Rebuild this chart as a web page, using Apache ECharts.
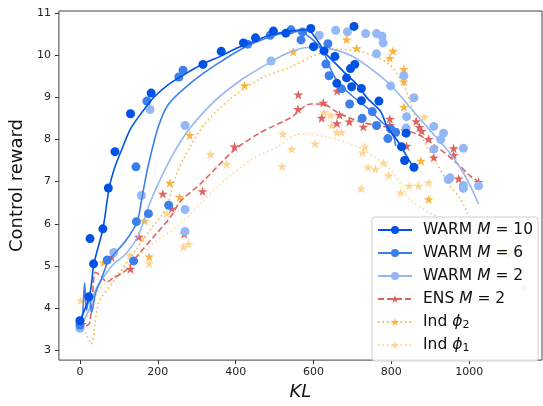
<!DOCTYPE html>
<html><head><meta charset="utf-8">
<script src="https://cdn.jsdelivr.net/npm/echarts@6/dist/echarts.min.js"></script>
<style>html,body{margin:0;padding:0;background:#fff}#c{width:543px;height:406px}</style>
</head><body><div id="c"></div>
<script>
// ---- tick labels ----
const xTicks = [0, 200, 400, 600, 800, 1000];
const yTicks = [3, 4, 5, 6, 7, 8, 9, 10, 11];
const legendNames = ['WARM M = 10', 'WARM M = 6', 'WARM M = 2', 'ENS M = 2', 'Ind ϕ2', 'Ind ϕ1'];

// ---- scatter points (KL, reward) ----
const w10PtKL = [0, 23, 26, 35, 59, 73, 90, 130, 183, 316, 363, 420, 451, 497, 529, 593, 600, 627, 655, 704, 706, 695, 685, 660, 698, 723, 723, 768, 838, 826, 834, 858];
const w10PtRw = [3.70, 4.27, 5.65, 5.05, 5.88, 6.85, 7.71, 8.61, 9.10, 9.78, 10.09, 10.29, 10.41, 10.57, 10.52, 10.63, 10.20, 10.10, 9.97, 10.68, 9.78, 9.68, 9.46, 9.33, 9.25, 9.21, 8.92, 8.91, 8.15, 7.83, 7.50, 7.34];
const w6PtKL = [0, 70, 138, 145, 176, 228, 144, 172, 254, 265, 431, 489, 542, 572, 568, 637, 632, 640, 672, 693, 725, 751, 762, 791, 798, 811];
const w6PtRw = [3.60, 5.14, 5.12, 6.05, 6.24, 6.44, 7.35, 8.91, 9.48, 9.64, 10.26, 10.47, 10.60, 10.55, 10.36, 10.27, 9.79, 9.51, 9.20, 8.84, 8.50, 8.66, 8.33, 8.02, 8.25, 8.17];
const w2PtKL = [0, 87, 158, 180, 270, 270, 270, 491, 615, 657, 687, 734, 762, 776, 779, 762, 798, 832, 858, 839, 838, 909, 934, 927, 909, 985, 951, 946, 985, 1024, 985];
const w2PtRw = [3.52, 5.32, 6.67, 8.71, 8.33, 6.34, 5.82, 9.86, 10.47, 10.59, 10.55, 10.51, 10.51, 10.45, 10.29, 10.03, 9.27, 9.51, 8.99, 8.54, 8.27, 8.31, 8.15, 8.00, 7.77, 7.79, 7.09, 7.05, 6.91, 6.90, 6.84];
const ensPtKL = [5, 81, 130, 151, 213, 236, 268, 315, 397, 561, 560, 625, 621, 661, 667, 660, 692, 728, 796, 796, 839, 864, 872, 878, 896, 909, 960, 960, 973, 1024];
const ensPtRw = [3.62, 5.21, 4.93, 5.69, 6.71, 6.36, 5.76, 6.77, 7.83, 9.06, 8.72, 8.87, 8.51, 9.15, 8.58, 8.38, 8.42, 8.30, 8.49, 8.34, 7.84, 8.43, 8.29, 8.20, 8.01, 7.57, 7.79, 7.63, 7.07, 6.99];
const ind2PtKL = [0, 61, 166, 178, 231, 256, 282, 423, 548, 685, 711, 796, 804, 832, 832, 832, 876, 896];
const ind2PtRw = [3.65, 5.08, 6.07, 5.22, 6.97, 6.63, 8.10, 9.28, 10.08, 10.37, 10.16, 9.93, 10.10, 9.67, 9.37, 8.77, 7.49, 6.58];
const ind1PtKL = [0, 2, 128, 159, 178, 223, 266, 279, 335, 377, 519, 521, 544, 604, 627, 644, 646, 660, 672, 732, 726, 740, 759, 780, 793, 723, 824, 846, 870, 896, 884, 1101, 1139];
const ind1PtRw = [3.72, 4.18, 5.26, 5.66, 5.06, 6.24, 5.45, 5.52, 7.65, 7.42, 7.36, 8.13, 7.77, 7.90, 8.64, 8.58, 8.33, 8.17, 8.17, 7.83, 7.69, 7.34, 7.30, 7.44, 7.15, 6.84, 6.74, 6.90, 6.90, 6.98, 8.53, 5.29, 4.50];

// ---- fitted curves (KL, reward) ----
const w10CvKL = [0, 25, 36, 59, 75, 90, 107, 130, 159, 190, 227, 270, 312, 360, 397, 440, 483, 542, 585, 602, 619, 632, 662, 687, 713, 738, 772, 790, 815, 832, 858];
const w10CvRw = [3.70, 4.30, 5.05, 5.88, 6.84, 7.35, 7.75, 8.25, 8.64, 9.00, 9.30, 9.55, 9.77, 9.97, 10.14, 10.30, 10.46, 10.57, 10.60, 10.45, 10.22, 10.03, 9.75, 9.52, 9.29, 8.98, 8.67, 8.29, 7.98, 7.72, 7.32];
const w6CvKL = [0, 7, 12, 17, 24, 30, 40, 57, 74, 117, 147, 159, 175, 201, 227, 278, 346, 431, 508, 560, 593, 627, 640, 662, 696, 738, 772, 790, 806, 811];
const w6CvRw = [3.60, 3.85, 4.60, 3.95, 4.25, 3.90, 4.35, 4.74, 5.12, 5.59, 6.05, 6.60, 7.36, 8.29, 8.83, 9.29, 9.75, 10.22, 10.49, 10.56, 10.41, 10.06, 9.75, 9.37, 9.06, 8.75, 8.44, 8.29, 8.06, 7.85];
const w2CvKL = [0, 15, 25, 40, 66, 87, 117, 151, 180, 227, 278, 346, 414, 483, 534, 585, 636, 696, 747, 798, 849, 900, 951, 985, 1011, 1024];
const w2CvRw = [3.50, 3.80, 4.00, 4.43, 4.81, 5.05, 5.28, 5.74, 6.50, 7.44, 8.21, 8.91, 9.41, 9.80, 10.05, 10.18, 10.16, 9.99, 9.68, 9.29, 8.75, 8.21, 7.67, 7.21, 6.74, 6.47];
const ensCvKL = [0, 15, 25, 32, 40, 53, 70, 83, 117, 151, 194, 236, 256, 312, 397, 465, 542, 593, 627, 662, 713, 764, 815, 866, 916, 968, 1003, 1024];
const ensCvRw = [3.73, 3.58, 3.65, 4.30, 4.85, 4.77, 4.62, 4.70, 4.89, 5.28, 5.74, 6.20, 6.51, 6.97, 7.75, 8.17, 8.52, 8.84, 8.83, 8.64, 8.44, 8.33, 8.25, 8.13, 7.83, 7.44, 7.13, 7.00];
const ind2CvKL = [0, 15, 29, 48, 82, 141, 184, 210, 227, 245, 269, 320, 389, 465, 542, 602, 662, 713, 764, 798, 832, 858, 883, 916, 951, 977, 994, 1015];
const ind2CvRw = [3.60, 3.40, 3.15, 4.12, 4.58, 5.35, 5.90, 6.20, 6.50, 7.10, 7.59, 8.36, 8.98, 9.45, 9.72, 9.99, 10.14, 10.10, 9.95, 9.75, 9.29, 8.60, 7.98, 7.44, 6.90, 6.60, 6.28, 5.80];
const ind1CvKL = [0, 15, 31, 49, 74, 117, 185, 253, 313, 355, 440, 508, 551, 585, 627, 669, 713, 755, 798, 824, 845, 900, 1000, 1071, 1110, 1147];
const ind1CvRw = [3.70, 3.75, 4.04, 4.43, 4.66, 4.97, 5.51, 5.97, 6.51, 6.90, 7.52, 7.83, 8.10, 8.13, 8.07, 7.98, 7.83, 7.59, 7.29, 6.95, 6.60, 6.25, 5.90, 5.50, 5.00, 4.43];

const zip = (a, b) => a.map((v, i) => [v, b[i]]);
const STAR = 'path://M50,0 L61.2,34.5 L97.6,34.5 L68.2,55.9 L79.4,90.5 L50,69.1 L20.6,90.5 L31.8,55.9 L2.4,34.5 L38.8,34.5 Z';

const cfg = [
  {name: legendNames[0], color: '#0052e6', pk: w10PtKL, pr: w10PtRw, ck: w10CvKL, cr: w10CvRw, sym: 'circle', dash: 'solid', z: 16},
  {name: legendNames[1], color: '#3c7fec', pk: w6PtKL, pr: w6PtRw, ck: w6CvKL, cr: w6CvRw, sym: 'circle', dash: 'solid', z: 14},
  {name: legendNames[2], color: '#94b7f5', pk: w2PtKL, pr: w2PtRw, ck: w2CvKL, cr: w2CvRw, sym: 'circle', dash: 'solid', z: 12},
  {name: legendNames[3], color: '#e0625f', pk: ensPtKL, pr: ensPtRw, ck: ensCvKL, cr: ensCvRw, sym: STAR, dash: [6, 3], z: 10},
  {name: legendNames[4], color: '#fbb43e', pk: ind2PtKL, pr: ind2PtRw, ck: ind2CvKL, cr: ind2CvRw, sym: STAR, dash: [1.5, 3], z: 8},
  {name: legendNames[5], color: '#fed594', pk: ind1PtKL, pr: ind1PtRw, ck: ind1CvKL, cr: ind1CvRw, sym: STAR, dash: [1.5, 3], z: 6}
];

const series = [];
cfg.forEach(c => {
  series.push({
    name: c.name, type: 'line', data: zip(c.ck, c.cr), smooth: 0.3,
    showSymbol: false, symbol: c.sym, symbolKeepAspect: true,
    color: c.color, lineStyle: {width: 1.6, type: c.dash, color: c.color},
    itemStyle: {color: c.color}, z: c.z + 1, silent: true
  });
  series.push({
    name: c.name + ' pts', type: 'scatter', data: zip(c.pk, c.pr),
    symbol: c.sym, symbolKeepAspect: true, symbolSize: c.sym === 'circle' ? 9 : 10,
    itemStyle: {color: c.color, opacity: 1}, z: c.z, silent: true
  });
});

const legendFmt = {
  'WARM M = 10': 'WARM {i|M} = 10',
  'WARM M = 6': 'WARM {i|M} = 6',
  'WARM M = 2': 'WARM {i|M} = 2',
  'ENS M = 2': 'ENS {i|M} = 2',
  'Ind ϕ2': 'Ind {i|ϕ}{s|2}',
  'Ind ϕ1': 'Ind {i|ϕ}{s|1}'
};

const chart = echarts.init(document.getElementById('c'), null, {renderer: 'canvas'});
chart.setOption({
  animation: false,
  backgroundColor: '#ffffff',
  textStyle: {fontFamily: 'DejaVu Sans'},
  grid: {left: 57, right: 1, top: 11, bottom: 38, show: true, borderColor: '#444', borderWidth: 1, backgroundColor: 'transparent'},
  xAxis: {
    type: 'value', min: -54, max: 1187, position: 'bottom',
    name: 'KL', nameLocation: 'middle', nameGap: 21,
    nameTextStyle: {fontSize: 18, fontStyle: 'italic', color: '#111', fontFamily: 'DejaVu Sans'},
    axisLine: {show: false, onZero: false},
    axisTick: {show: true, inside: false, length: 4, customValues: xTicks, lineStyle: {color: '#333'}},
    axisLabel: {customValues: xTicks, fontSize: 11, color: '#222', margin: 7, fontFamily: 'DejaVu Sans', formatter: v => String(v)},
    splitLine: {show: false}
  },
  yAxis: {
    type: 'value', min: 2.768, max: 11.046, position: 'left',
    name: 'Control reward', nameLocation: 'middle', nameGap: 28, nameRotate: 90,
    nameTextStyle: {fontSize: 18, color: '#111', fontFamily: 'DejaVu Sans'},
    axisLine: {show: false, onZero: false},
    axisTick: {show: true, inside: false, length: 4, customValues: yTicks, lineStyle: {color: '#333'}},
    axisLabel: {customValues: yTicks, fontSize: 11, color: '#222', margin: 8, fontFamily: 'DejaVu Sans', formatter: v => String(v)},
    splitLine: {show: false}
  },
  legend: {
    data: legendNames, orient: 'vertical', left: 372, top: 217,
    itemWidth: 34, itemHeight: 10, itemGap: 5,
    padding: [4, 5, 7, 5],
    backgroundColor: 'rgba(255,255,255,0.8)', borderColor: '#d0d0d0', borderWidth: 1, borderRadius: 3,
    formatter: n => legendFmt[n] || n,
    textStyle: {
      fontSize: 15.5, lineHeight: 18, color: '#111', fontFamily: 'DejaVu Sans', padding: [0, 0, 0, 6],
      rich: {
        i: {fontSize: 15.5, fontStyle: 'italic', fontFamily: 'DejaVu Sans', color: '#111', lineHeight: 18},
        s: {fontSize: 11, fontFamily: 'DejaVu Sans', color: '#111', lineHeight: 8, verticalAlign: 'bottom'}
      }
    },
    z: 20
  },
  series: series
});
</script>
</body></html>
